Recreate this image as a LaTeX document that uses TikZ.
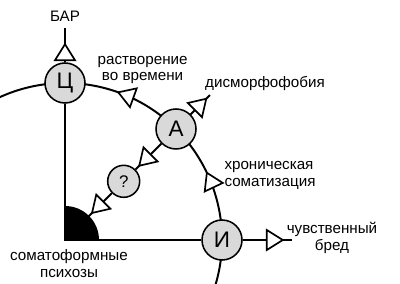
\documentclass[tikz,border=0pt]{standalone}
\usepackage{fontspec}
\setmainfont{Liberation Sans}
\usetikzlibrary{decorations.markings}
\newcommand\trihead{\filldraw[fill=white,line width=1.2pt,line join=miter] (0,0) -- (-0.4,0.25) -- (-0.4,-0.25) -- cycle;}
\begin{document}
\begin{tikzpicture}[line width=1.4pt,
  knot/.style={circle,draw,line width=1.1pt,fill=gray!30,minimum size=1cm,inner sep=0pt,font=\fontsize{16}{19}\selectfont},
  qknot/.style={knot,minimum size=0.8cm,font=\fontsize{12}{14}\selectfont},
  lbl/.style={font=\fontsize{10.8}{12}\selectfont,align=center,inner sep=0pt},
  tri/.style={postaction={decorate,decoration={markings,mark=at position #1 with {\trihead}}}}]
\def\R{3.925}
\clip (-1.625,-1.075) rectangle (8.375,6.0);
% Bogen
\draw[tri=0.324,tri=0.644] (-20:\R) arc (-20:120:\R);
% Knoten
\node[knot] (C) at (90:\R) {Ц};
\node[knot] (A) at (45:\R) {А};
\node[knot] (I) at (0:\R) {И};
\node[qknot] (Q) at (45:2.075) {?};
\coordinate (O) at (0,0);
\coordinate (bar) at (0,5.3);
\coordinate (dism) at (45:5.125);
\coordinate (bred) at (5.675,0);
% Verbindungen
\draw (C) -- (O) -- (I);
\draw[tri=0.45cm] (C) -- (bar);
\draw[tri=0.55cm] (A) -- (dism);
\draw[tri=1cm] (I) -- (bred);
\draw[tri=0.78cm] (A) -- (Q);
\draw[tri=0.7cm] (Q) -- (O);
\fill (O) -- (0.85,0) arc (0:90:0.85) -- cycle;
% Beschriftungen
\node[lbl] (tBar) at (0,5.6) {БАР};
\node[lbl] (tRast) at (1.94,4.25) {растворение\\во времени};
\node[lbl] (tDism) at (5.0,3.9) {дисморфофобия};
\node[lbl,align=left] (tChron) at (5.125,1.625) {хроническая\\соматизация};
\node[lbl] (tBred) at (6.675,0.05) {чувственный\\бред};
\node[lbl] (tSomat) at (0.1,-0.6) {соматоформные\\психозы};
\end{tikzpicture}
\end{document}
